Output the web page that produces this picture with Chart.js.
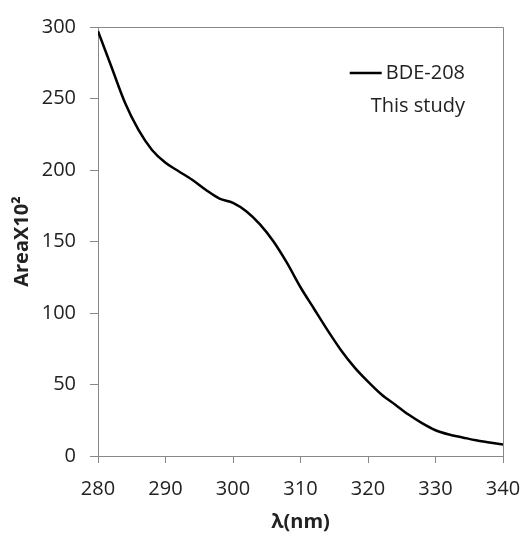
<!DOCTYPE html>
<html>
<head>
<meta charset="utf-8">
<script src="https://cdn.jsdelivr.net/npm/chart.js@4"></script>
<style>
  html, body { margin: 0; padding: 0; background: #fff; }
  #wrap { width: 525px; height: 534px; }
</style>
</head>
<body>
<div id="wrap"><canvas id="chart" width="525" height="534"></canvas></div>
<script>
const wavelengths = [280, 282, 284, 286, 288, 290, 292, 294, 296, 298, 300,
    302, 304, 306, 308, 310, 312, 314, 316, 318, 320,
    322, 324, 326, 328, 330, 332, 334, 336, 338, 340];
const areaValues = [297, 272, 247, 228, 214, 205, 199, 193, 186, 180, 177,
    171, 162, 150, 135, 118, 103, 88, 74, 62, 52,
    43, 36, 29, 23, 18, 15, 13, 11, 9.5, 8];
const xTicks = [280, 290, 300, 310, 320, 330, 340];
const yTicks = [0, 50, 100, 150, 200, 250, 300];
const seriesLabel = 'BDE-208';
const legendNote = 'This study';

const axisGray = '#888888';
const textColor = '#222222';
const fontFamily = "'Open Sans', 'DejaVu Sans', sans-serif";

const points = wavelengths.map((w, i) => ({ x: w, y: areaValues[i] }));

// box around the plot area (top and right sides)
const frame = {
    id: 'frame',
    beforeDatasetsDraw(chart) {
        const { ctx, chartArea: a } = chart;
        ctx.save();
        ctx.strokeStyle = axisGray;
        ctx.lineWidth = 1;
        ctx.beginPath();
        ctx.moveTo(a.left, a.top + 0.5);
        ctx.lineTo(a.right + 0.5, a.top + 0.5);
        ctx.lineTo(a.right + 0.5, a.bottom);
        ctx.stroke();
        ctx.restore();
    }
};

// legend drawn inside the plot area
const insideLegend = {
    id: 'insideLegend',
    afterDatasetsDraw(chart) {
        const { ctx, chartArea: a } = chart;
        const ds = chart.data.datasets[0];
        const textRight = a.right - 38;
        ctx.save();
        ctx.font = '20px ' + fontFamily;
        ctx.fillStyle = textColor;
        ctx.textAlign = 'right';
        ctx.textBaseline = 'middle';
        ctx.fillText(ds.label, textRight, a.top + 46);
        const w = ctx.measureText(ds.label).width;
        ctx.strokeStyle = ds.borderColor;
        ctx.lineWidth = ds.borderWidth;
        ctx.beginPath();
        ctx.moveTo(textRight - w - 36, a.top + 46);
        ctx.lineTo(textRight - w - 4, a.top + 46);
        ctx.stroke();
        ctx.fillText(legendNote, textRight, a.top + 79);
        ctx.restore();
    }
};

new Chart(document.getElementById('chart').getContext('2d'), {
    type: 'line',
    data: {
        datasets: [{
            label: seriesLabel,
            data: points,
            borderColor: '#000000',
            borderWidth: 2.5,
            pointRadius: 0,
            fill: false,
            tension: 0.4,
            cubicInterpolationMode: 'monotone'
        }]
    },
    options: {
        responsive: false,
        animation: false,
        layout: { padding: { top: 27, right: 22, left: 0, bottom: 0 } },
        plugins: {
            legend: { display: false },
            tooltip: { enabled: false }
        },
        scales: {
            x: {
                type: 'linear',
                min: 280,
                max: 340,
                afterFit(scale) {
                    scale.height = 78;
                    scale.paddingLeft = 0;
                    scale.paddingRight = 0;
                },
                afterBuildTicks(scale) { scale.ticks = xTicks.map(v => ({ value: v })); },
                grid: { drawOnChartArea: false, color: axisGray, tickLength: 7 },
                border: { color: axisGray },
                ticks: {
                    color: textColor,
                    padding: 14,
                    maxRotation: 0,
                    font: { family: fontFamily, size: 20 }
                },
                title: {
                    display: true,
                    text: 'λ(nm)',
                    color: textColor,
                    padding: { top: 0, bottom: 0 },
                    font: { family: fontFamily, size: 20, weight: 'bold' }
                }
            },
            y: {
                min: 0,
                max: 300,
                afterFit(scale) {
                    scale.width = 98;
                    scale.paddingTop = 0;
                    scale.paddingBottom = 0;
                },
                afterBuildTicks(scale) { scale.ticks = yTicks.map(v => ({ value: v })); },
                grid: { drawOnChartArea: false, color: axisGray, tickLength: 8 },
                border: { color: axisGray },
                ticks: {
                    color: textColor,
                    padding: 14,
                    font: { family: fontFamily, size: 20 }
                },
                title: {
                    display: true,
                    text: 'AreaX10²',
                    color: textColor,
                    padding: { top: 10, bottom: 0 },
                    font: { family: fontFamily, size: 20, weight: 'bold' }
                }
            }
        }
    },
    plugins: [frame, insideLegend]
});
</script>
</body>
</html>
